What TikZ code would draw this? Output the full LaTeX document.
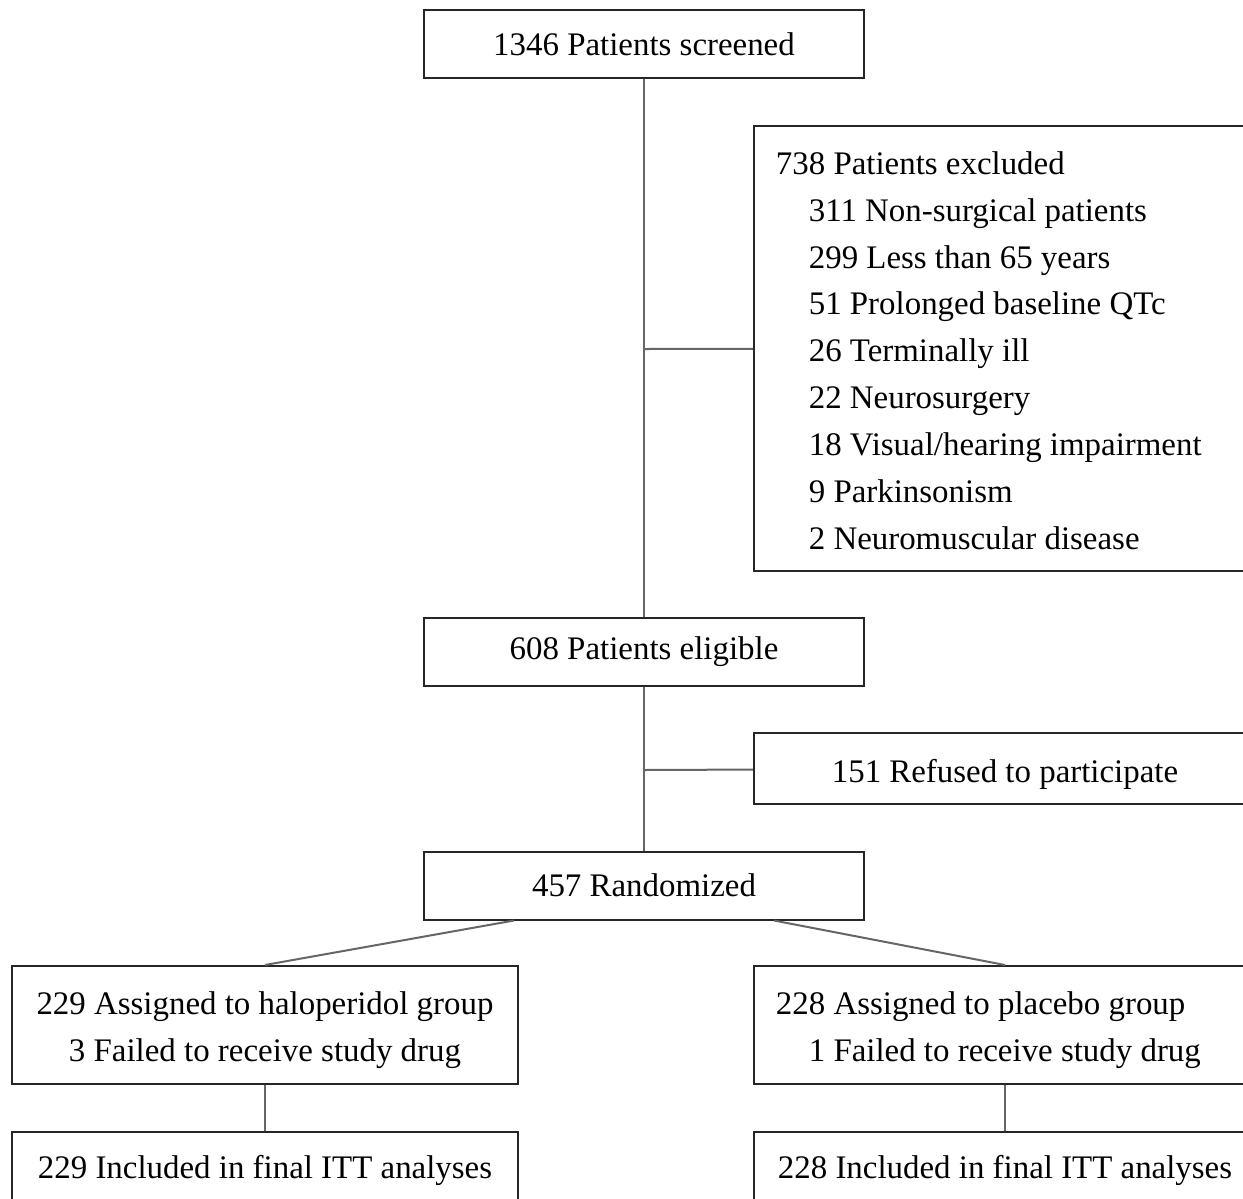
\documentclass[tikz,border=0pt]{standalone}
\usepackage{fontspec}
\setmainfont{Liberation Serif}
\usetikzlibrary{positioning}
\tikzstyle{box} = [rectangle, draw=black!85, line width=0.05cm, minimum width=11cm, minimum height=1.7cm, align=center, inner sep=0pt, font=\fontsize{23.4pt}{33.4pt}\selectfont]
\tikzstyle{sidebox} = [box, minimum width=12.55cm, text width=11.45cm, align=flush left]
\tikzstyle{link} = [draw=black!60, line width=0.05cm]
\newcommand{\toprule}{\rule{0pt}{0.85cm}}

\begin{document}
\begin{tikzpicture}[x=0.025cm, y=-0.025cm]
 \path[use as bounding box, clip] (0,0) rectangle (1243,1198);
 \node (screened) [box] at (644,44) {1346 Patients screened};
 \node (excluded) [sidebox, minimum height=11.125cm] at (1005,348.5) {
  \toprule 738 Patients excluded\\
  \quad 311 Non-surgical patients\\
  \quad 299 Less than 65 years\\
  \quad 51 Prolonged baseline QTc\\
  \quad 26 Terminally ill\\
  \quad 22 Neurosurgery\\
  \quad 18 Visual/hearing impairment\\
  \quad 9 Parkinsonism\\
  \quad 2 Neuromuscular disease\vphantom{g}};
 \node (eligible) [box] at (644,652) {608 Patients eligible};
 \node (refused) [box, minimum width=12.55cm, minimum height=1.775cm] at (1005,768.5) {\toprule 151 Refused to participate};
 \node (randomized) [box] at (644,885.5) {457 Randomized};
 \node (halo) [box, minimum width=12.65cm, minimum height=2.95cm] at (265,1025) {\toprule 229 Assigned to haloperidol group\\3 Failed to receive study drug};
 \node (placebo) [sidebox, minimum height=2.95cm] at (1005,1025) {\toprule 228 Assigned to placebo group\\\quad 1 Failed to receive study drug};
 \node (haloitt) [box, minimum width=12.65cm, minimum height=1.9cm] at (265,1170) {229 Included in final ITT analyses};
 \node (placeboitt) [box, minimum width=12.55cm, minimum height=1.9cm] at (1005,1170) {228 Included in final ITT analyses};

 \coordinate (exclbranch) at (644,349);
 \coordinate (refbranch) at (644,770);
 \draw[link] (screened) -- (eligible);
 \draw[link] (eligible) -- (randomized);
 \draw[link] (exclbranch) -- (excluded);
 \draw[link] (refbranch) -- (refused);
 \draw[link] ([xshift=-3.25cm]randomized.south) -- (halo.north);
 \draw[link] ([xshift=3.25cm]randomized.south) -- (placebo.north);
 \draw[link] (halo) -- (haloitt);
 \draw[link] (placebo) -- (placeboitt);
\end{tikzpicture}
\end{document}
